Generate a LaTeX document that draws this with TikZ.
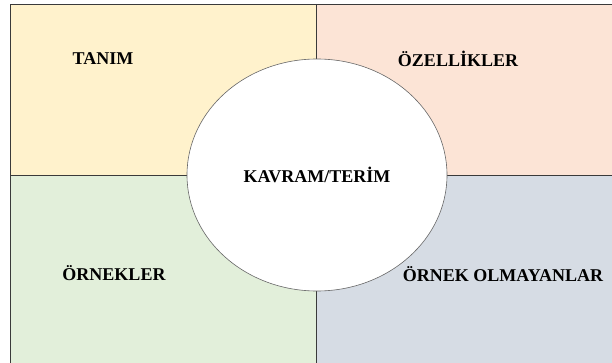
\documentclass[tikz,border=0pt]{standalone}
\usepackage{fontspec}
\setmainfont{Liberation Serif}
\usetikzlibrary{shapes.geometric}

\definecolor{tanimfill}{HTML}{FFF2CC}
\definecolor{ozellikfill}{HTML}{FCE4D6}
\definecolor{ornekfill}{HTML}{E2EFDA}
\definecolor{olmayanfill}{HTML}{D6DCE4}
\definecolor{borderline}{HTML}{3A3A3A}

\tikzset{
	label/.style={font=\fontsize{18}{20}\selectfont\bfseries, inner sep=0pt},
	kavram/.style={draw=gray!80!black, fill=white, ellipse, line width=.6pt,
		minimum width=260pt, minimum height=232pt, inner sep=0pt,
		font=\fontsize{18}{20}\selectfont\bfseries}
}

\begin{document}
\begin{tikzpicture}[x=1pt, y=-1pt]
		\def\xleft{10}   % Left edge of the frame
		\def\ytop{4}     % Top edge of the frame
		\def\xmid{316}   % Vertical divider
		\def\ymid{175}   % Horizontal divider
		\def\xright{612} % Right edge of the picture
		\def\ybot{363}   % Bottom edge of the picture
		
		\useasboundingbox (0,0) rectangle (612,363);
		
		% Four coloured quarters
		\fill[tanimfill] (\xleft,\ytop) rectangle (\xmid,\ymid);
		\fill[ozellikfill] (\xmid,\ytop) rectangle (\xright,\ymid);
		\fill[ornekfill] (\xleft,\ymid) rectangle (\xmid,\ybot);
		\fill[olmayanfill] (\xmid,\ymid) rectangle (\xright,\ybot);
		
		% Frame and dividers
		\draw[borderline, line width=.9pt] (\xleft,\ybot) -- (\xleft,\ytop) -- (\xright,\ytop);
		\draw[borderline, line width=.9pt] (\xleft,\ymid) -- (\xright,\ymid);
		\draw[borderline, line width=.9pt] (\xmid,\ytop) -- (\xmid,\ybot);
		
		\node[label] (tanim) at (103,59) {TANIM};
		\node[label] (ozellik) at (458,59) {ÖZELLİKLER};
		\node[label] (ornek) at (114,273) {ÖRNEKLER};
		\node[label] (olmayan) at (503,274) {ÖRNEK OLMAYANLAR};
		
		\node[kavram] (terim) at (317,175) {\raisebox{-3pt}{KAVRAM/TERİM}\hspace{8pt}};
	\end{tikzpicture}
\end{document}
